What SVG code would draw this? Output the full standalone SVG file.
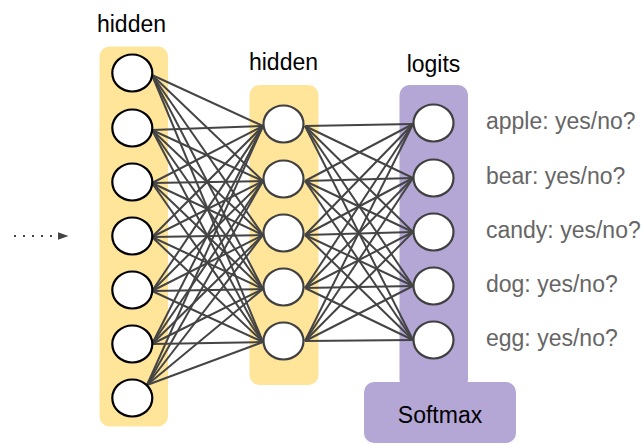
<svg xmlns="http://www.w3.org/2000/svg" width="642" height="444" viewBox="0 0 642 444">
<style>
.t{font-family:"Liberation Sans",Arial,sans-serif;font-size:23px;fill:#000}
.lbl{font-family:"Liberation Sans",Arial,sans-serif;font-size:23px;fill:#666}
.n1{fill:#fff;stroke:#000;stroke-width:2.2}
.n2{fill:#fff;stroke:#404040;stroke-width:2.2}
.c line{stroke:#444;stroke-width:2}
</style>
<rect width="642" height="444" fill="#fff"/>
<g id="panels">
<rect id="panel-hidden1" x="99.5" y="46.5" width="68.5" height="380" rx="10" fill="#FFE599"/>
<rect id="panel-hidden2" x="249.5" y="85" width="69" height="300" rx="10" fill="#FFE599"/>
<rect id="panel-logits" x="399.5" y="85" width="68.5" height="305" rx="10" fill="#B4A7D6"/>
<rect id="softmax-box" x="364" y="382" width="152" height="61" rx="10" fill="#B4A7D6"/>
</g>
<g id="labels-top">
<text class="t" x="131.5" y="31.5" text-anchor="middle">hidden</text>
<text class="t" x="283.5" y="70" text-anchor="middle">hidden</text>
<text class="t" x="433.5" y="72" text-anchor="middle">logits</text>
</g>
<g id="input-arrow">
<line x1="14" y1="236" x2="56" y2="236" stroke="#444" stroke-width="2.2" stroke-dasharray="2 7"/>
<polygon points="58,232.3 68.5,236 58,239.7" fill="#444"/>
</g>
<g id="connectors" class="c">
<!-- layer1 -> layer2 -->
<line x1="152" y1="75" x2="263" y2="126"/><line x1="152" y1="75" x2="263" y2="181"/><line x1="152" y1="75" x2="263" y2="235"/><line x1="152" y1="75" x2="263" y2="289"/><line x1="152" y1="75" x2="263" y2="342"/>
<line x1="152" y1="130" x2="263" y2="126"/><line x1="152" y1="130" x2="263" y2="181"/><line x1="152" y1="130" x2="263" y2="235"/><line x1="152" y1="130" x2="263" y2="289"/><line x1="152" y1="130" x2="263" y2="342"/>
<line x1="152" y1="183" x2="263" y2="126"/><line x1="152" y1="183" x2="263" y2="181"/><line x1="152" y1="183" x2="263" y2="235"/><line x1="152" y1="183" x2="263" y2="289"/><line x1="152" y1="183" x2="263" y2="342"/>
<line x1="152" y1="237" x2="263" y2="126"/><line x1="152" y1="237" x2="263" y2="181"/><line x1="152" y1="237" x2="263" y2="235"/><line x1="152" y1="237" x2="263" y2="289"/><line x1="152" y1="237" x2="263" y2="342"/>
<line x1="152" y1="291" x2="263" y2="126"/><line x1="152" y1="291" x2="263" y2="181"/><line x1="152" y1="291" x2="263" y2="235"/><line x1="152" y1="291" x2="263" y2="289"/><line x1="152" y1="291" x2="263" y2="342"/>
<line x1="152" y1="344" x2="263" y2="126"/><line x1="152" y1="344" x2="263" y2="181"/><line x1="152" y1="344" x2="263" y2="235"/><line x1="152" y1="344" x2="263" y2="289"/><line x1="152" y1="344" x2="263" y2="342"/>
<line x1="147" y1="385" x2="263" y2="126"/><line x1="147" y1="385" x2="263" y2="181"/><line x1="147" y1="385" x2="263" y2="235"/><line x1="147" y1="385" x2="263" y2="289"/><line x1="147" y1="385" x2="263" y2="342"/>
<!-- layer2 -> logits -->
<line x1="305" y1="126" x2="413" y2="124"/><line x1="305" y1="126" x2="413" y2="178"/><line x1="305" y1="126" x2="413" y2="232"/><line x1="305" y1="126" x2="413" y2="286"/><line x1="305" y1="126" x2="413" y2="340"/>
<line x1="305" y1="181" x2="413" y2="124"/><line x1="305" y1="181" x2="413" y2="178"/><line x1="305" y1="181" x2="413" y2="232"/><line x1="305" y1="181" x2="413" y2="286"/><line x1="305" y1="181" x2="413" y2="340"/>
<line x1="305" y1="235" x2="413" y2="124"/><line x1="305" y1="235" x2="413" y2="178"/><line x1="305" y1="235" x2="413" y2="232"/><line x1="305" y1="235" x2="413" y2="286"/><line x1="305" y1="235" x2="413" y2="340"/>
<line x1="305" y1="288" x2="413" y2="124"/><line x1="305" y1="288" x2="413" y2="178"/><line x1="305" y1="288" x2="413" y2="232"/><line x1="305" y1="288" x2="413" y2="286"/><line x1="305" y1="288" x2="413" y2="340"/>
<line x1="305" y1="341" x2="413" y2="124"/><line x1="305" y1="341" x2="413" y2="178"/><line x1="305" y1="341" x2="413" y2="232"/><line x1="305" y1="341" x2="413" y2="286"/><line x1="305" y1="341" x2="413" y2="340"/>
</g>
<g id="h1-1"><ellipse class="n1" cx="132.3" cy="73" rx="20" ry="18.5"/></g>
<g id="h1-2"><ellipse class="n1" cx="132.3" cy="128" rx="20" ry="18.5"/></g>
<g id="h1-3"><ellipse class="n1" cx="132.3" cy="182" rx="20" ry="18.5"/></g>
<g id="h1-4"><ellipse class="n1" cx="132.3" cy="236" rx="20" ry="18.5"/></g>
<g id="h1-5"><ellipse class="n1" cx="132.3" cy="290" rx="20" ry="18.5"/></g>
<g id="h1-6"><ellipse class="n1" cx="132.3" cy="344" rx="20" ry="18.5"/></g>
<g id="h1-7"><ellipse class="n1" cx="132.3" cy="398" rx="20" ry="18.5"/></g>
<g id="h2-1"><ellipse class="n2" cx="283.5" cy="124" rx="20" ry="18.5"/></g>
<g id="h2-2"><ellipse class="n2" cx="283.5" cy="179" rx="20" ry="18.5"/></g>
<g id="h2-3"><ellipse class="n2" cx="283.5" cy="233" rx="20" ry="18.5"/></g>
<g id="h2-4"><ellipse class="n2" cx="283.5" cy="287" rx="20" ry="18.5"/></g>
<g id="h2-5"><ellipse class="n2" cx="283.5" cy="341" rx="20" ry="18.5"/></g>
<g id="logit-apple"><ellipse class="n2" cx="433.5" cy="123" rx="20" ry="18.5"/><text class="lbl" x="486" y="129">apple: yes/no?</text></g>
<g id="logit-bear"><ellipse class="n2" cx="433.5" cy="178" rx="20" ry="18.5"/><text class="lbl" x="486" y="184">bear: yes/no?</text></g>
<g id="logit-candy"><ellipse class="n2" cx="433.5" cy="232" rx="20" ry="18.5"/><text class="lbl" x="486" y="238">candy: yes/no?</text></g>
<g id="logit-dog"><ellipse class="n2" cx="433.5" cy="286" rx="20" ry="18.5"/><text class="lbl" x="486" y="292">dog: yes/no?</text></g>
<g id="logit-egg"><ellipse class="n2" cx="433.5" cy="340" rx="20" ry="18.5"/><text class="lbl" x="486" y="346">egg: yes/no?</text></g>
<g id="softmax"><text class="t" x="440" y="423" text-anchor="middle">Softmax</text></g>
</svg>
